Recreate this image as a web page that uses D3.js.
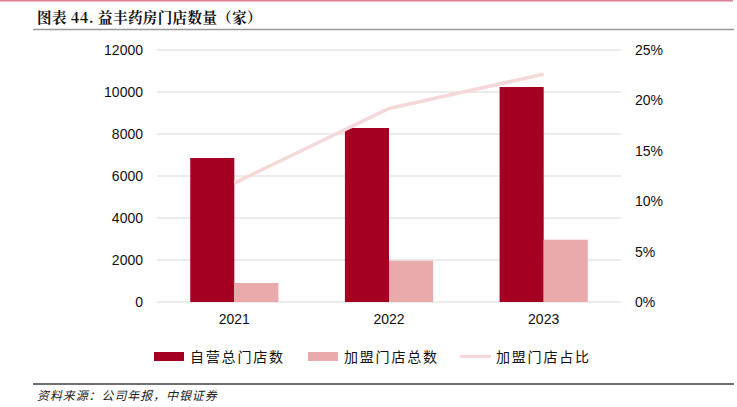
<!DOCTYPE html>
<html><head><meta charset="utf-8">
<script src="https://cdn.jsdelivr.net/npm/d3@7"></script>
<style>body{margin:0;background:#fff}svg{display:block}</style>
</head><body>
<script>
const categories = ["2021", "2022", "2023"];
const selfOperated = [6857, 8286, 10238];
const franchised = [905, 1968, 2968];
const franchiseShare = [0.118, 0.192, 0.226];
const leftTicks = [0, 2000, 4000, 6000, 8000, 10000, 12000];
const rightTicks = [0, 0.05, 0.10, 0.15, 0.20, 0.25];
const seriesNames = ["自营总门店数", "加盟门店总数", "加盟门店占比"];
const title = "图表 44. 益丰药房门店数量（家）";
const source = "资料来源：公司年报，中银证券";

const W = 737, H = 407;
const svg = d3.select("body").append("svg").attr("width", W).attr("height", H);
const plotL = 157, plotR = 621, plotT = 50, plotB = 302;
const c1 = "#a50021", c2 = "#e8aaaa", c3 = "#f5d8d8";
const font = "'Liberation Sans', Arial, sans-serif";
const cjk = "'Noto Sans CJK SC', sans-serif";

// top decoration
svg.append("line").attr("x1", 0).attr("x2", 733).attr("y1", 0.75).attr("y2", 0.75).attr("stroke", "#de7f98").attr("stroke-width", 1.5);
svg.append("text").attr("x", 37).attr("y", 23).text(title)
  .attr("font-family", "'Noto Serif CJK SC','Noto Sans CJK SC', serif").attr("font-weight", "bold")
  .attr("font-size", 14.5).attr("letter-spacing", 0.4).attr("fill", "#111");
svg.append("line").attr("x1", 33).attr("x2", 734).attr("y1", 29.5).attr("y2", 29.5).attr("stroke", "#999").attr("stroke-width", 1.5);

const x = d3.scaleBand().domain(categories).range([plotL, plotR]).paddingInner(0).paddingOuter(0);
const y = d3.scaleLinear().domain([0, 12000]).range([plotB, plotT]);
const y2 = d3.scaleLinear().domain([0, 0.25]).range([plotB, plotT]);
const bw = x.bandwidth() * 0.285;

// gridlines
svg.append("g").selectAll("line").data(leftTicks).join("line")
  .attr("x1", plotL).attr("x2", plotR).attr("y1", d => y(d)).attr("y2", d => y(d))
  .attr("stroke", "#d9d9d9").attr("stroke-width", 1);

// left axis
const gl = svg.append("g").attr("transform", `translate(${plotL},0)`)
  .call(d3.axisLeft(y).tickValues(leftTicks).tickSize(0).tickPadding(14).tickFormat(d3.format("d")));
gl.select(".domain").remove();
gl.selectAll("text").attr("font-family", font).attr("font-size", 14).attr("fill", "#111");

// right axis
const gr = svg.append("g").attr("transform", `translate(${plotR},0)`)
  .call(d3.axisRight(y2).tickValues(rightTicks).tickSize(0).tickPadding(14).tickFormat(d3.format(".0%")));
gr.select(".domain").remove();
gr.selectAll("text").attr("font-family", font).attr("font-size", 14).attr("fill", "#111");

// bars
const center = d => x(d) + x.bandwidth() / 2;
svg.append("g").selectAll("rect").data(categories).join("rect")
  .attr("x", d => center(d) - bw).attr("width", bw)
  .attr("y", (d, i) => y(selfOperated[i])).attr("height", (d, i) => plotB - y(selfOperated[i]))
  .attr("fill", c1);
svg.append("g").selectAll("rect").data(categories).join("rect")
  .attr("x", d => center(d)).attr("width", bw)
  .attr("y", (d, i) => y(franchised[i])).attr("height", (d, i) => plotB - y(franchised[i]))
  .attr("fill", c2);

// line
const line = d3.line().x((d, i) => center(categories[i])).y(d => y2(d));
svg.append("path").datum(franchiseShare).attr("d", line)
  .attr("fill", "none").attr("stroke", c3).attr("stroke-width", 3.5);

// x axis labels
const gx = svg.append("g").attr("transform", `translate(0,${plotB})`)
  .call(d3.axisBottom(x).tickSize(0).tickPadding(12));
gx.select(".domain").remove();
gx.selectAll("text").attr("font-family", font).attr("font-size", 14).attr("fill", "#111");

// legend
const lg = svg.append("g");
const items = [
  {x: 154, type: "rect", color: c1},
  {x: 308, type: "rect", color: c2},
  {x: 460, type: "line", color: c3}
];
items.forEach((it, i) => {
  if (it.type === "rect") {
    lg.append("rect").attr("x", it.x).attr("y", 352).attr("width", 30).attr("height", 9).attr("fill", it.color);
  } else {
    lg.append("line").attr("x1", it.x).attr("x2", it.x + 31).attr("y1", 356.5).attr("y2", 356.5)
      .attr("stroke", it.color).attr("stroke-width", 3.5);
  }
  lg.append("text").attr("x", it.x + 36).attr("y", 362).text(seriesNames[i])
    .attr("font-family", cjk).attr("font-size", 14).attr("letter-spacing", 1.8).attr("fill", "#111");
});

// bottom
svg.append("line").attr("x1", 33).attr("x2", 734).attr("y1", 384).attr("y2", 384).attr("stroke", "#404040").attr("stroke-width", 1.5);
svg.append("text").attr("x", 37).attr("y", 400).text(source)
  .attr("font-family", cjk).attr("font-style", "italic").attr("font-size", 12)
  .attr("letter-spacing", 0.9).attr("fill", "#222");
</script>
</body></html>
